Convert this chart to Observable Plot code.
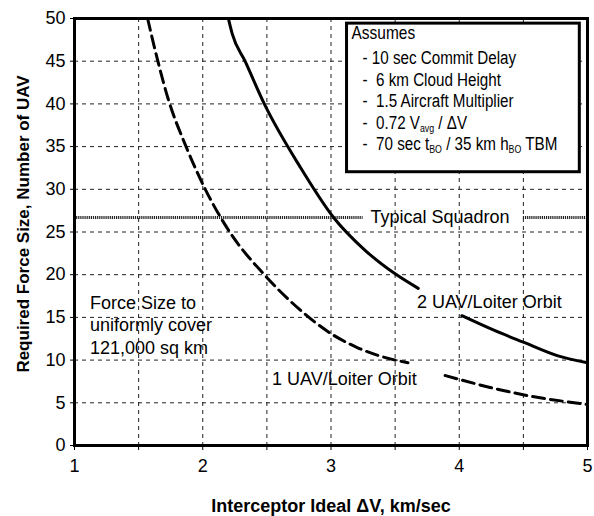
<!DOCTYPE html>
<html>
<head>
<meta charset="utf-8">
<script src="https://cdn.jsdelivr.net/npm/d3@7"></script>
<script src="https://cdn.jsdelivr.net/npm/@observablehq/plot@0.6"></script>
<style>
  html, body { margin: 0; padding: 0; background: #fff; }
  #chart svg { display: block; }
</style>
</head>
<body>
<div id="chart"></div>
<script>
// ---- data ----
const dv1  = [1.57, 1.65, 1.73, 1.87, 2.02, 2.21, 2.48, 2.75, 3.0, 3.2, 3.5, 3.6, NaN, 3.89, 4.24, 4.48, 5.0];
const uav1 = [50,   45,   40.6, 35,   30,   25,   20,   16,   13.1, 11.5, 10, 9.7, NaN, 8.2, 6.8, 6.0, 4.8];
const dv2  = [2.2, 2.23, 2.33, 2.48, 2.76, 3.02, 3.27, 3.5, 3.68, NaN, 4.02, 4.27, 4.5, 4.77, 5.0];
const uav2 = [50,  48.2, 45,   40,   32.6, 26.7, 22.8, 20.1, 18.4, NaN, 15.2, 13.5, 12.1, 10.5, 9.7];
const squadronSize = 26.7;
const squadronX1 = [1, 4.5];
const squadronX2 = [3.25, 5];
const xTicks = [1, 1.5, 2, 2.5, 3, 3.5, 4, 4.5, 5];
const yTicks = [0, 5, 10, 15, 20, 25, 30, 35, 40, 45, 50];
const gridX = [1.5, 2, 2.5, 3, 3.5, 4, 4.5];
const gridY = [5, 10, 15, 20, 25, 30, 35, 40, 45];
const xTitle = "Interceptor Ideal ΔV, km/sec";
const yTitle = "Required Force Size, Number of UAV";
const label1 = "1 UAV/Loiter Orbit";
const label2 = "2 UAV/Loiter Orbit";
const squadronLabel = "Typical Squadron";
const noteLines = ["Force Size to", "uniformly cover", "121,000 sq km"];
const boxTitle = "Assumes";
const boxLines = [
  [["- 10 sec Commit Delay", null]],
  [["-  6 km Cloud Height", null]],
  [["-  1.5 Aircraft Multiplier", null]],
  [["-  0.72 V", null], ["avg", "sub"], [" / ΔV", null]],
  [["-  70 sec t", null], ["BO", "sub"], [" / 35 km h", null], ["BO", "sub"], [" TBM", null]]
];

const line1 = dv1.map((d, i) => ({dv: d, n: uav1[i]}));
const line2 = dv2.map((d, i) => ({dv: d, n: uav2[i]}));
const sq = squadronX1.map((d, i) => ({x1: d, x2: squadronX2[i], y: squadronSize}));

const font = "'Liberation Sans', Arial, sans-serif";

const chart = Plot.plot({
  width: 594,
  height: 516,
  marginLeft: 74,
  marginRight: 7,
  marginTop: 18,
  marginBottom: 71,
  x: {type: "linear", domain: [1, 5]},
  y: {type: "linear", domain: [0, 50]},
  style: {fontFamily: font, fontSize: "18px", color: "#000", background: "#fff"},
  marks: [
    Plot.ruleX(gridX, {stroke: "#222", strokeWidth: 1, strokeDasharray: "4,4"}),
    Plot.ruleY(gridY, {stroke: "#222", strokeWidth: 1, strokeDasharray: "4,4"}),
    Plot.axisX({ticks: xTicks, tickSize: 5, tickPadding: 9, label: null, fontSize: 18,
                tickFormat: (d) => Number.isInteger(d) ? String(d) : ""}),
    Plot.axisY({ticks: yTicks, tickSize: 4, tickPadding: 5, label: null, fontSize: 18,
                tickFormat: (d) => String(d)}),
    Plot.ruleY(sq, {x1: "x1", x2: "x2", y: "y", stroke: "#222", strokeWidth: 3, strokeDasharray: "1.2,0.9"}),
    Plot.text([squadronLabel], {x: () => 3.85, y: () => squadronSize, fontSize: 18, textAnchor: "middle"}),
    Plot.line(line1, {x: "dv", y: "n", stroke: "#000", strokeWidth: 3, strokeDasharray: "12,6", curve: "monotone-x"}),
    Plot.line(line2, {x: "dv", y: "n", stroke: "#000", strokeWidth: 3, curve: "monotone-x"}),
    Plot.text([label1], {x: () => 2.54, y: () => 7.8, fontSize: 18, textAnchor: "start"}),
    Plot.text([label2], {x: () => 3.67, y: () => 16.8, fontSize: 18, textAnchor: "start"}),
    Plot.text(noteLines, {x: () => 1.12, y: (d, i) => 16.7 - i * 2.65, fontSize: 18, textAnchor: "start"}),
    Plot.frame({stroke: "#000", strokeWidth: 3}),
    Plot.text([xTitle], {frameAnchor: "bottom", dy: 61, lineAnchor: "middle", textAnchor: "middle", fontSize: 18, fontWeight: "bold"}),
    Plot.text([yTitle], {frameAnchor: "left", rotate: -90, dx: -51, dy: -8, textAnchor: "middle", lineAnchor: "middle", fontSize: 17, fontWeight: "bold"})
  ]
});

// Assumptions box positioned through the chart's scales
const sx = chart.scale("x"), sy = chart.scale("y");
const svg = d3.select(chart);
const bx1 = sx.apply(3.125), bx2 = sx.apply(4.94);
const by1 = sy.apply(49.4), by2 = sy.apply(32.0);
const g = svg.append("g").attr("text-anchor", "start");
g.append("rect")
  .attr("x", bx1).attr("y", by1)
  .attr("width", bx2 - bx1).attr("height", by2 - by1)
  .attr("fill", "#fff").attr("stroke", "#000").attr("stroke-width", 3);
g.append("text")
  .attr("transform", `translate(${bx1 + 5},${by1 + 16}) scale(0.86,1)`)
  .attr("font-size", 18)
  .text(boxTitle);
boxLines.forEach((parts, i) => {
  const t = g.append("text")
    .attr("transform", `translate(${bx1 + 16},${by1 + 41 + i * 21.5}) scale(0.8,1)`)
    .attr("font-size", 19)
    .style("white-space", "pre");
  let prevSub = false;
  parts.forEach(([s, kind]) => {
    const ts = t.append("tspan").text(s);
    if (kind === "sub") {
      ts.attr("font-size", 11).attr("dy", 3);
      prevSub = true;
    } else {
      if (prevSub) ts.attr("dy", -3);
      prevSub = false;
    }
  });
});

document.getElementById("chart").appendChild(chart);
</script>
</body>
</html>
